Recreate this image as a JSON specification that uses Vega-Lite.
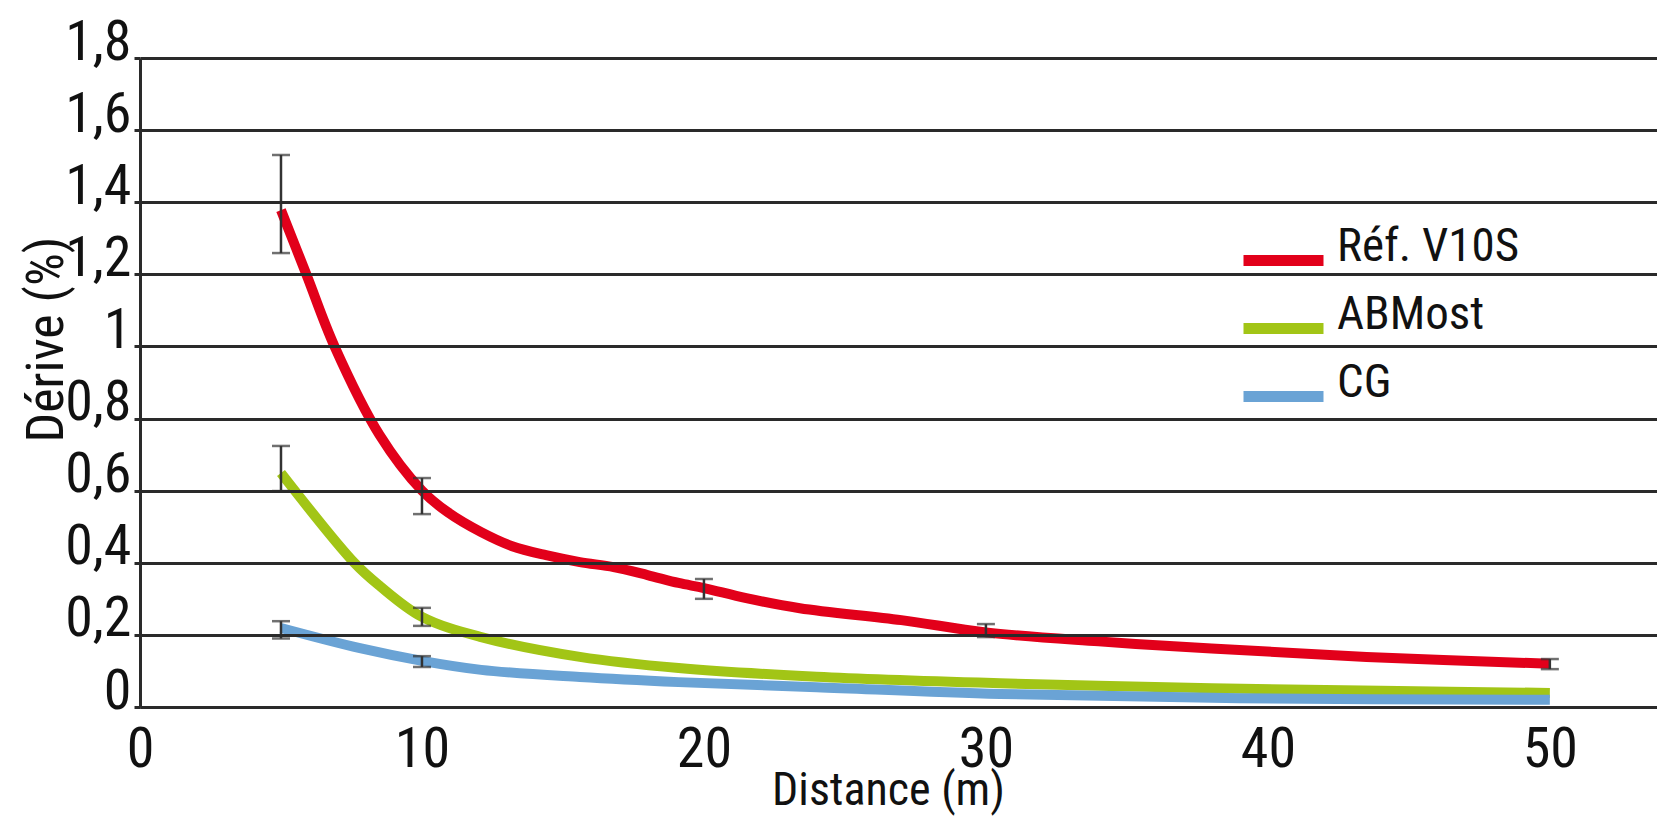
{
  "$schema": "https://vega.github.io/schema/vega-lite/v6.json",
  "autosize": {"type": "none"},
  "padding": {"left": 140, "top": 58, "right": 0, "bottom": 122},
  "width": 1517,
  "height": 649,
  "background": "white",
  "config": {
    "font": "'Roboto Condensed', 'Liberation Sans Narrow', 'DejaVu Sans Condensed', sans-serif",
    "view": {"stroke": null}
  },
  "datasets": {
    "curves": [
      {"serie": "Réf. V10S", "distance": 5, "derive": 1.378},
      {"serie": "Réf. V10S", "distance": 5.9, "derive": 1.2},
      {"serie": "Réf. V10S", "distance": 6.9, "derive": 1.0},
      {"serie": "Réf. V10S", "distance": 8.5, "derive": 0.754},
      {"serie": "Réf. V10S", "distance": 10, "derive": 0.6},
      {"serie": "Réf. V10S", "distance": 10.9, "derive": 0.541},
      {"serie": "Réf. V10S", "distance": 12.1, "derive": 0.485},
      {"serie": "Réf. V10S", "distance": 13.2, "derive": 0.446},
      {"serie": "Réf. V10S", "distance": 14.4, "derive": 0.421},
      {"serie": "Réf. V10S", "distance": 15.6, "derive": 0.402},
      {"serie": "Réf. V10S", "distance": 16.8, "derive": 0.388},
      {"serie": "Réf. V10S", "distance": 18, "derive": 0.366},
      {"serie": "Réf. V10S", "distance": 19.1, "derive": 0.344},
      {"serie": "Réf. V10S", "distance": 20, "derive": 0.33},
      {"serie": "Réf. V10S", "distance": 21.5, "derive": 0.302},
      {"serie": "Réf. V10S", "distance": 23.4, "derive": 0.274},
      {"serie": "Réf. V10S", "distance": 27, "derive": 0.241},
      {"serie": "Réf. V10S", "distance": 30, "derive": 0.207},
      {"serie": "Réf. V10S", "distance": 34, "derive": 0.182},
      {"serie": "Réf. V10S", "distance": 38, "derive": 0.162},
      {"serie": "Réf. V10S", "distance": 43.5, "derive": 0.139},
      {"serie": "Réf. V10S", "distance": 50, "derive": 0.12},
      {"serie": "ABMost", "distance": 5, "derive": 0.649},
      {"serie": "ABMost", "distance": 7.6, "derive": 0.4},
      {"serie": "ABMost", "distance": 8.5, "derive": 0.336},
      {"serie": "ABMost", "distance": 10, "derive": 0.25},
      {"serie": "ABMost", "distance": 12.1, "derive": 0.194},
      {"serie": "ABMost", "distance": 15.6, "derive": 0.139},
      {"serie": "ABMost", "distance": 19.1, "derive": 0.108},
      {"serie": "ABMost", "distance": 24, "derive": 0.084},
      {"serie": "ABMost", "distance": 30.5, "derive": 0.066},
      {"serie": "ABMost", "distance": 38, "derive": 0.052},
      {"serie": "ABMost", "distance": 44, "derive": 0.045},
      {"serie": "ABMost", "distance": 50, "derive": 0.039},
      {"serie": "CG", "distance": 5, "derive": 0.219},
      {"serie": "CG", "distance": 7.8, "derive": 0.163},
      {"serie": "CG", "distance": 10, "derive": 0.128},
      {"serie": "CG", "distance": 12.1, "derive": 0.103},
      {"serie": "CG", "distance": 15.6, "derive": 0.083},
      {"serie": "CG", "distance": 19.1, "derive": 0.069},
      {"serie": "CG", "distance": 24, "derive": 0.055},
      {"serie": "CG", "distance": 30.5, "derive": 0.036},
      {"serie": "CG", "distance": 39, "derive": 0.024},
      {"serie": "CG", "distance": 50, "derive": 0.02}
    ],
    "errors": [
      {"serie": "Réf. V10S", "distance": 5, "low": 1.259, "high": 1.531},
      {"serie": "Réf. V10S", "distance": 10, "low": 0.535, "high": 0.635},
      {"serie": "Réf. V10S", "distance": 20, "low": 0.3, "high": 0.355},
      {"serie": "Réf. V10S", "distance": 30, "low": 0.194, "high": 0.23},
      {"serie": "Réf. V10S", "distance": 50, "low": 0.105, "high": 0.133},
      {"serie": "ABMost", "distance": 5, "low": 0.599, "high": 0.724},
      {"serie": "ABMost", "distance": 10, "low": 0.225, "high": 0.275},
      {"serie": "CG", "distance": 5, "low": 0.19, "high": 0.238},
      {"serie": "CG", "distance": 10, "low": 0.111, "high": 0.141}
    ]
  },
  "layer": [
    {
      "data": {"name": "curves"},
      "mark": {"type": "line", "interpolate": "catmull-rom", "strokeWidth": 10, "strokeCap": "butt"},
      "encoding": {
        "x": {
          "field": "distance", "type": "quantitative",
          "scale": {"domain": [0, 53.8], "nice": false, "zero": false},
          "axis": {
            "values": [0, 10, 20, 30, 40, 50],
            "title": "Distance (m)",
            "grid": false, "ticks": false,
            "domain": true, "domainColor": "#2a2a2a", "domainWidth": 3,
            "labelFontSize": 56, "labelColor": "#111", "labelPadding": 15, "labelBaseline": "top",
            "labelFlush": false,
            "titleFontSize": 46, "titleFontWeight": "normal", "titleColor": "#111",
            "titleX": 748, "titleY": 61, "titleAlign": "center", "titleBaseline": "top"
          }
        },
        "y": {
          "field": "derive", "type": "quantitative",
          "title": "Dérive (%)",
          "scale": {"domain": [0, 1.8], "nice": false},
          "axis": {
            "values": [0, 0.2, 0.4, 0.6, 0.8, 1, 1.2, 1.4, 1.6, 1.8],
            "labelExpr": "replace(format(datum.value, '~g'), '.', ',')",
            "zindex": 1,
            "grid": true, "gridColor": "#2a2a2a", "gridWidth": 3, "gridOpacity": 1,
            "ticks": true, "tickSize": 6, "tickColor": "#2a2a2a", "tickWidth": 3,
            "domain": true, "domainColor": "#2a2a2a", "domainWidth": 3,
            "labelFontSize": 56, "labelColor": "#111", "labelPadding": 3,
            "labelBaseline": "alphabetic", "labelOffset": 1, "labelFlush": false,
            "titleFontSize": 52, "titleFontWeight": "normal", "titleColor": "#111",
            "titleAngle": 270, "titleX": -78, "titleY": 281, "titleAlign": "center", "titleBaseline": "alphabetic"
          }
        },
        "color": {
          "field": "serie", "type": "nominal",
          "scale": {"domain": ["Réf. V10S", "ABMost", "CG"], "range": ["#e2001a", "#a2c516", "#6aa3d5"]},
          "legend": {
            "title": null,
            "orient": "none", "legendX": 1098, "legendY": 157, "direction": "vertical",
            "padding": 0,
            "symbolType": "stroke", "symbolSize": 6400, "symbolStrokeWidth": 11,
            "labelFontSize": 47, "labelColor": "#111", "labelOffset": 8, "labelBaseline": "alphabetic",
            "rowPadding": -1, "labelLimit": 400
          }
        }
      }
    },
    {
      "data": {"name": "errors"},
      "mark": {
        "type": "errorbar",
        "color": "#333",
        "rule": {"strokeWidth": 2.5},
        "ticks": {"size": 18, "thickness": 2.5, "color": "#333"}
      },
      "encoding": {
        "x": {"field": "distance", "type": "quantitative"},
        "y": {"field": "low", "type": "quantitative", "title": "Dérive (%)"},
        "y2": {"field": "high"}
      }
    }
  ]
}
